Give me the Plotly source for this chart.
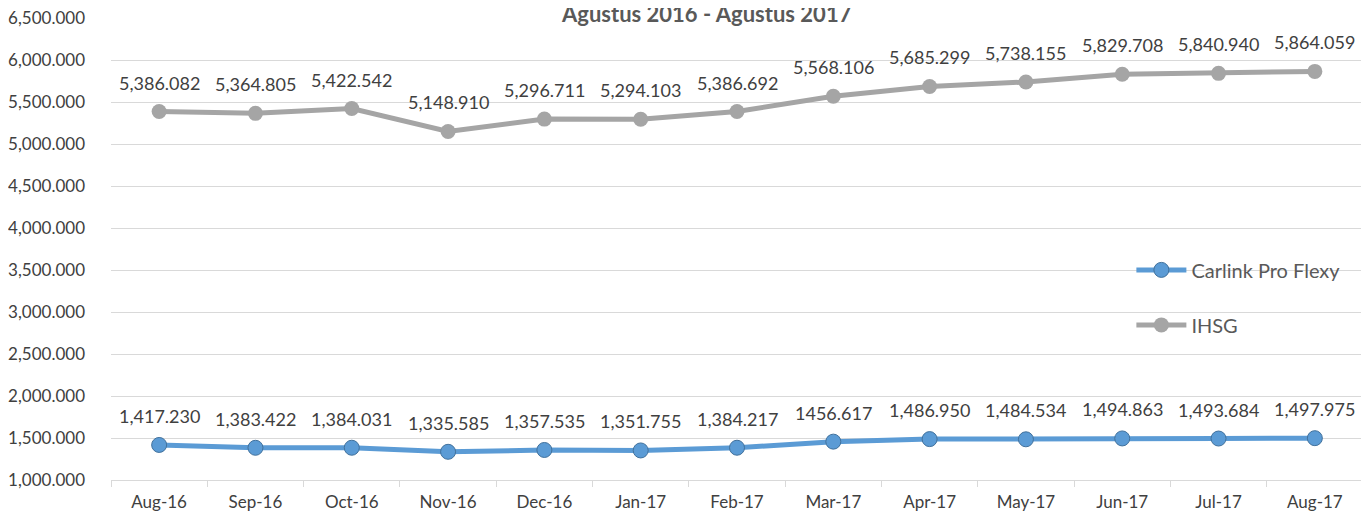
import plotly.graph_objects as go

months = ["Aug-16", "Sep-16", "Oct-16", "Nov-16", "Dec-16", "Jan-17", "Feb-17",
          "Mar-17", "Apr-17", "May-17", "Jun-17", "Jul-17", "Aug-17"]
carlink = [1417.230, 1383.422, 1384.031, 1335.585, 1357.535, 1351.755, 1384.217,
           1456.617, 1486.950, 1484.534, 1494.863, 1493.684, 1497.975]
carlink_labels = ["1,417.230", "1,383.422", "1,384.031", "1,335.585", "1,357.535",
                  "1,351.755", "1,384.217", "1456.617", "1,486.950", "1,484.534",
                  "1,494.863", "1,493.684", "1,497.975"]
ihsg = [5386.082, 5364.805, 5422.542, 5148.910, 5296.711, 5294.103, 5386.692,
        5568.106, 5685.299, 5738.155, 5829.708, 5840.940, 5864.059]
ihsg_labels = ["5,386.082", "5,364.805", "5,422.542", "5,148.910", "5,296.711",
               "5,294.103", "5,386.692", "5,568.106", "5,685.299", "5,738.155",
               "5,829.708", "5,840.940", "5,864.059"]
y_ticks = [1000, 1500, 2000, 2500, 3000, 3500, 4000, 4500, 5000, 5500, 6000, 6500]
y_tick_text = ["1,000.000", "1,500.000", "2,000.000", "2,500.000", "3,000.000",
               "3,500.000", "4,000.000", "4,500.000", "5,000.000", "5,500.000",
               "6,000.000", "6,500.000"]

FONT = "Lato"
TXT = "#404040"

fig = go.Figure()
fig.add_trace(go.Scatter(
    x=months, y=carlink, name="Carlink Pro Flexy", mode="lines+markers",
    line=dict(color="#5B9BD5", width=5),
    marker=dict(size=15, color="#5B9BD5", line=dict(color="#41719C", width=1)),
    legendgroup="a", cliponaxis=False))
fig.add_trace(go.Scatter(
    x=months, y=ihsg, name="IHSG", mode="lines+markers",
    line=dict(color="#A5A5A5", width=5),
    marker=dict(size=15, color="#A5A5A5"),
    legendgroup="b", cliponaxis=False))

annotations = []
for series, labels in ((carlink, carlink_labels), (ihsg, ihsg_labels)):
    for m, v, t in zip(months, series, labels):
        annotations.append(dict(x=m, y=v, text=t, showarrow=False, yshift=29,
                                yanchor="middle",
                                font=dict(family=FONT, size=18, color=TXT)))
annotations.append(dict(text="<b>Agustus 2016 - Agustus 2017</b>", x=0.476, y=1,
                        xref="paper", yref="paper", yshift=5, yanchor="middle",
                        showarrow=False,
                        font=dict(family=FONT, size=22, color="#595959")))

fig.update_layout(
    width=1369, height=512,
    margin=dict(l=103, r=14, t=10, b=40, autoexpand=False),
    plot_bgcolor="white", paper_bgcolor="white",
    showlegend=True,
    legend=dict(x=0.815, y=0.497, xanchor="left", yanchor="top",
                font=dict(family=FONT, size=20, color="#595959"),
                tracegroupgap=26, itemwidth=50, bgcolor="rgba(0,0,0,0)"),
    xaxis=dict(type="category", showgrid=False, showline=True, automargin=False,
               linecolor="#D9D9D9", linewidth=1,
               ticks="outside", tickcolor="#D9D9D9", ticklen=6,
               tickson="boundaries", ticklabelstandoff=7,
               ticklabeloverflow="allow",
               tickfont=dict(family=FONT, size=17, color=TXT),
               range=[-0.5, 12.5]),
    yaxis=dict(range=[1000, 6500], tickvals=y_ticks, ticktext=y_tick_text,
               showgrid=True, gridcolor="#D9D9D9", gridwidth=1, automargin=False,
               zeroline=False, showline=False, ticklabelstandoff=25,
               ticklabeloverflow="allow",
               tickfont=dict(family=FONT, size=17, color=TXT), ticks=""),
    annotations=annotations,
    shapes=[dict(type="line", xref="paper", yref="paper", x0=1.0045, x1=1.0045,
                 y0=-0.2, y1=1.2, line=dict(color="#2E75B6", width=2, dash="dot"))]
)

fig.write_html("out.html")
